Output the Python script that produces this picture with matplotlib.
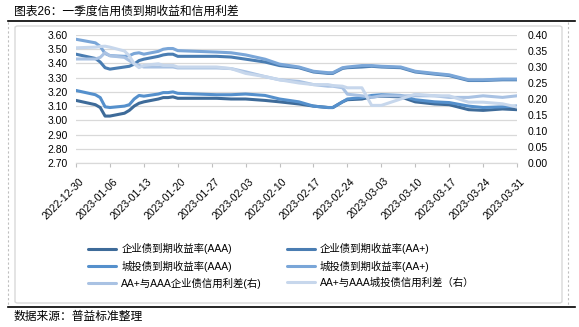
import matplotlib
matplotlib.use('Agg')
import matplotlib.pyplot as plt
import matplotlib.transforms as mtransforms
from matplotlib.patches import FancyBboxPatch
from matplotlib.lines import Line2D
import pandas as pd

plt.rcParams['font.family'] = ['Liberation Sans', 'Noto Sans CJK SC']

# data
dates = ['2022-12-30', '2023-01-03', '2023-01-04', '2023-01-05', '2023-01-06',
         '2023-01-09', '2023-01-10', '2023-01-11', '2023-01-12', '2023-01-13',
         '2023-01-16', '2023-01-17', '2023-01-18', '2023-01-19', '2023-01-20',
         '2023-01-28', '2023-01-31', '2023-02-03', '2023-02-07', '2023-02-10',
         '2023-02-14', '2023-02-17', '2023-02-20', '2023-02-21', '2023-02-23',
         '2023-02-24', '2023-02-27', '2023-03-01', '2023-03-03', '2023-03-07',
         '2023-03-10', '2023-03-14', '2023-03-17', '2023-03-21', '2023-03-24',
         '2023-03-28', '2023-03-31']
corp_aaa = [3.14, 3.11, 3.09, 3.03, 3.03, 3.05, 3.07, 3.10, 3.12, 3.13,
            3.15, 3.16, 3.16, 3.165, 3.155, 3.155, 3.15, 3.15, 3.14, 3.13,
            3.115, 3.10, 3.09, 3.09, 3.13, 3.145, 3.15, 3.165, 3.17, 3.165,
            3.13, 3.115, 3.11, 3.075, 3.07, 3.08, 3.075]
corp_aap = [3.465, 3.435, 3.41, 3.37, 3.36, 3.375, 3.38, 3.395, 3.42, 3.43,
            3.45, 3.46, 3.465, 3.465, 3.45, 3.45, 3.445, 3.43, 3.41, 3.385,
            3.37, 3.34, 3.33, 3.33, 3.365, 3.37, 3.375, 3.38, 3.375, 3.37,
            3.34, 3.325, 3.315, 3.28, 3.28, 3.285, 3.285]
ct_aaa = [3.21, 3.18, 3.16, 3.095, 3.09, 3.10, 3.11, 3.15, 3.175, 3.17,
          3.185, 3.195, 3.195, 3.20, 3.19, 3.18, 3.18, 3.185, 3.175, 3.15,
          3.13, 3.10, 3.09, 3.09, 3.13, 3.15, 3.16, 3.175, 3.18, 3.175,
          3.145, 3.13, 3.125, 3.10, 3.09, 3.095, 3.10]
ct_aap = [3.57, 3.545, 3.52, 3.47, 3.455, 3.45, 3.455, 3.47, 3.475, 3.465,
          3.485, 3.50, 3.505, 3.505, 3.49, 3.48, 3.475, 3.46, 3.43, 3.395,
          3.375, 3.345, 3.335, 3.335, 3.37, 3.375, 3.385, 3.385, 3.38, 3.375,
          3.345, 3.33, 3.32, 3.285, 3.285, 3.29, 3.29]
corp_spr = [0.325, 0.325, 0.33, 0.345, 0.335, 0.33, 0.32, 0.31, 0.305, 0.30,
            0.30, 0.30, 0.30, 0.30, 0.297, 0.297, 0.295, 0.285, 0.27, 0.26,
            0.255, 0.245, 0.24, 0.24, 0.235, 0.215, 0.21, 0.205, 0.21, 0.21,
            0.21, 0.21, 0.205, 0.205, 0.21, 0.205, 0.21]
ct_spr = [0.36, 0.362, 0.364, 0.365, 0.362, 0.35, 0.335, 0.31, 0.298, 0.305,
          0.31, 0.305, 0.305, 0.305, 0.30, 0.30, 0.295, 0.28, 0.27, 0.26,
          0.25, 0.245, 0.245, 0.242, 0.24, 0.235, 0.235, 0.18, 0.18, 0.20,
          0.215, 0.21, 0.21, 0.19, 0.19, 0.185, 0.175]
tick_dates = ['2022-12-30', '2023-01-06', '2023-01-13', '2023-01-20',
              '2023-01-27', '2023-02-03', '2023-02-10', '2023-02-17',
              '2023-02-24', '2023-03-03', '2023-03-10', '2023-03-17',
              '2023-03-24', '2023-03-31']
left_ticks = [2.70, 2.80, 2.90, 3.00, 3.10, 3.20, 3.30, 3.40, 3.50, 3.60]
right_ticks = [0.00, 0.05, 0.10, 0.15, 0.20, 0.25, 0.30, 0.35, 0.40]

labels = ['企业债到期收益率(AAA)', '企业债到期收益率(AA+)',
          '城投债到期收益率(AAA)', '城投债到期收益率(AA+)',
          'AA+与AAA企业债信用利差(右)', 'AA+与AAA城投债信用利差（右）']
colors = ['#3E6B99', '#4A7DB2', '#5590CC', '#7AA6D8', '#A9C2E3', '#C7D7EC']

x = pd.to_datetime(dates)
xt = pd.to_datetime(tick_dates)

W, H = 579, 327
fig = plt.figure(figsize=(W / 100, H / 100), dpi=100)

# frame decorations
fig.add_artist(Line2D([8 / W, 575 / W], [1 - 21 / H, 1 - 21 / H], color='black', lw=1.2))
fig.add_artist(Line2D([8 / W, 575 / W], [1 - 307 / H, 1 - 307 / H], color='black', lw=1.2))
for xx in (8, 568):
    fig.add_artist(Line2D([xx / W, xx / W], [1 - 22 / H, 1 - 306 / H],
                          color='#BFBFBF', lw=0.8, ls=(0, (2, 2))))
fig.add_artist(FancyBboxPatch((15 / W, 1 - 303 / H), (562 - 15) / W, (303 - 26) / H,
                              boxstyle='round,pad=0,rounding_size=0.005',
                              transform=fig.transFigure, fc='none', ec='#D9D9D9', lw=1))
fig.text(14 / W, 1 - 12 / H, '图表26：一季度信用债到期收益和信用利差',
         fontsize=8.5, va='center', ha='left')
fig.text(14 / W, 1 - 317 / H, '数据来源：普益标准整理',
         fontsize=8.5, va='center', ha='left')

ax = fig.add_axes([76 / W, 1 - 163 / H, (517 - 76) / W, (163 - 35) / H])
ax2 = ax.twinx()

h = []
for ys, c, lab in zip([corp_aaa, corp_aap, ct_aaa, ct_aap], colors[:4], labels[:4]):
    h += ax.plot(x, ys, color=c, lw=2.2, label=lab, solid_capstyle='round')
for ys, c, lab in zip([corp_spr, ct_spr], colors[4:], labels[4:]):
    h += ax2.plot(x, ys, color=c, lw=2.2, label=lab, solid_capstyle='round')

ax.set_xlim(xt[0], xt[-1])
ax.set_ylim(2.70, 3.60)
ax2.set_ylim(0, 0.40)
ax.set_yticks(left_ticks)
ax.set_yticklabels(['{:.2f}'.format(v) for v in left_ticks])
ax2.set_yticks(right_ticks)
ax2.set_yticklabels(['{:.2f}'.format(v) for v in right_ticks])
ax.grid(axis='y', color='#D9D9D9', lw=0.9)
ax.set_axisbelow(True)

ax.set_xticks(xt)
ax.set_xticklabels([d.strftime('%Y-%m-%d') for d in xt], rotation=45,
                   ha='right', va='center', rotation_mode='anchor')
ax.tick_params(axis='x', length=3, color='#BFBFBF', pad=9, labelsize=7.5)
shift = mtransforms.ScaledTranslation(0.06, 0, fig.dpi_scale_trans)
for lab in ax.get_xticklabels():
    lab.set_transform(lab.get_transform() + shift)
ax.tick_params(axis='y', length=0, pad=6, labelsize=7.5)
ax2.tick_params(axis='y', length=0, pad=8, labelsize=7.5)
for a in (ax, ax2):
    for s in ('top', 'left', 'right'):
        a.spines[s].set_visible(False)
    a.spines['bottom'].set_color('#D9D9D9')

order = [0, 2, 4, 1, 3, 5]
fig.legend([h[i] for i in order], [labels[i] for i in order], ncol=2,
           loc='upper left', bbox_to_anchor=(88 / W, 1 - 243 / H),
           frameon=False, fontsize=7.5, borderpad=0, borderaxespad=0,
           handlelength=2.7, handletextpad=0.5, columnspacing=2.35,
           labelspacing=0.6)

fig.savefig('out.png', dpi=100)
